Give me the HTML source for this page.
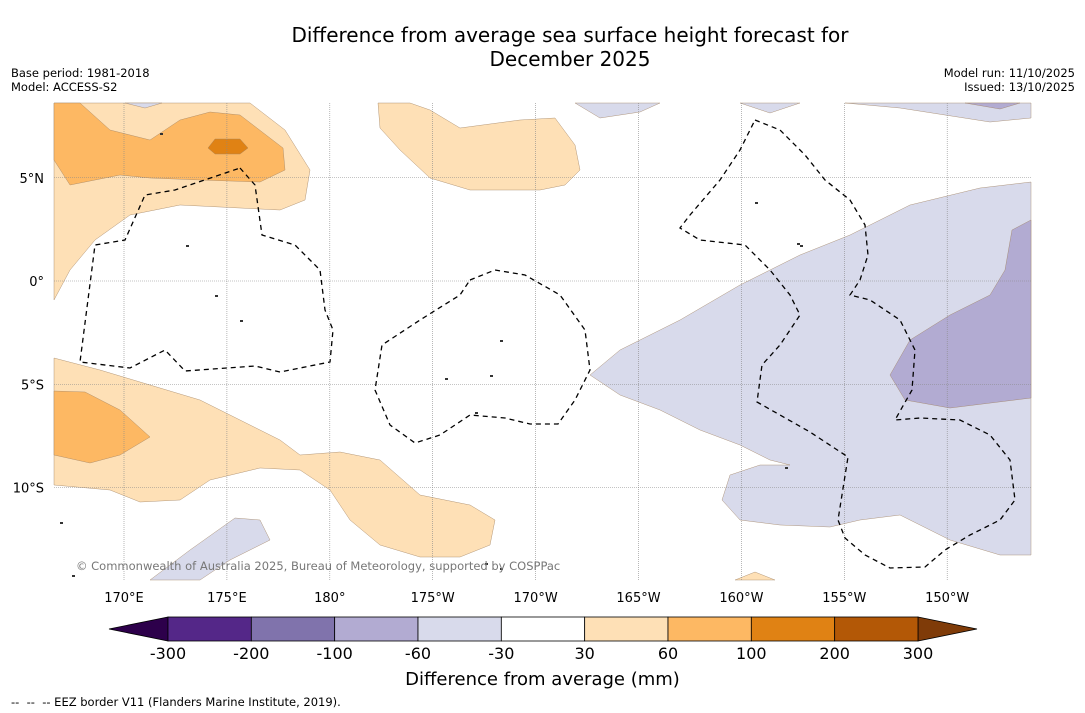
<!DOCTYPE html>
<html><head><meta charset="utf-8">
<style>
body{margin:0;background:#fff;font-family:"DejaVu Sans",sans-serif;}
#wrap{position:relative;width:1085px;height:713px;overflow:hidden;background:#fff}
.t{position:absolute;white-space:nowrap;color:#000}
</style></head><body>
<div id="wrap">
<div class="t" style="left:0;width:1140px;top:23px;text-align:center;font-size:20px;line-height:24px">Difference from average sea surface height forecast for<br>December 2025</div>
<div class="t" style="left:11px;top:66px;font-size:11.5px;line-height:14px">Base period: 1981-2018<br>Model: ACCESS-S2</div>
<div class="t" style="right:10px;top:66px;font-size:11.5px;line-height:14px;text-align:right">Model run: 11/10/2025<br>Issued: 13/10/2025</div>
<svg id="svg" width="1085" height="713" style="position:absolute;left:0;top:0"></svg>
<div class="t" style="left:0;width:1085px;text-align:center;top:669px;font-size:18px">Difference from average (mm)</div>
<div class="t" style="left:11px;top:695px;font-size:11.5px">-- &nbsp;-- &nbsp;-- EEZ border V11 (Flanders Marine Institute, 2019).</div>
</div>
<script>
const levels=["-300","-200","-100","-60","-30","30","60","100","200","300"];
const levelColors=["#542788","#8073ac","#b2abd2","#d8daeb","#ffffff","#fee0b6","#fdb863","#e08214","#b35806"];
const extendColors=["#2d004b","#7f3b08"];
const lonTicks=[170,175,180,-175,-170,-165,-160,-155,-150];
const lonLabels=["170°E","175°E","180°","175°W","170°W","165°W","160°W","155°W","150°W"];
const latTicks=[5,0,-5,-10];
const latLabels=["5°N","0°","5°S","10°S"];
const NS="http://www.w3.org/2000/svg";
const FF="DejaVu Sans, sans-serif";
const svg=document.getElementById('svg');
const X0=54,X1=1031,Y0=103,Y1=580;
function lonX(l){let e=l<0?l+360:l;return 124+(e-170)*20.58;}
function latY(l){return 281-l*20.65;}
function mk(t,a,p){const e=document.createElementNS(NS,t);for(const k in a)e.setAttribute(k,a[k]);(p||svg).appendChild(e);return e;}
const g=mk('g',{});


const polys=[
["orange-light-nw","#fee0b6","54,103 250,103 285,130 310,170 305,200 280,210 240,208 180,205 130,215 95,240 70,270 54,300"],
["orange-mid-nw","#fdb863","54,103 80,103 110,130 150,140 180,120 210,112 240,115 283,148 285,170 260,182 200,180 150,178 120,175 70,185 54,160"],
["orange-dark-nw","#e08214","208,148 215,139 240,139 248,148 240,154 215,154"],
["orange-light-north","#fee0b6","378,103 410,103 430,110 460,128 520,120 555,118 575,145 580,170 565,185 540,190 470,190 430,178 400,150 380,128"],
["orange-light-sw","#fee0b6","54,358 100,370 150,385 200,400 240,420 280,440 300,455 340,452 380,460 420,495 470,505 495,520 490,545 460,557 420,557 380,545 350,520 330,490 300,470 260,468 210,480 180,500 140,502 110,490 54,485"],
["orange-mid-sw","#fdb863","54,391 85,392 120,410 150,437 120,455 90,463 54,455"],
["lavender-east","#d8daeb","590,375 620,350 680,320 740,285 800,255 850,235 910,205 980,188 1031,182 1031,555 1000,555 950,540 900,515 860,520 830,527 780,525 740,520 722,500 730,475 760,465 790,465 770,460 740,445 700,430 660,410 620,395"],
["lavender-dark-east","#b2abd2","1031,220 1012,230 1005,270 990,295 950,315 910,340 890,375 905,400 950,408 1031,398"],
["lavender-top1","#d8daeb","575,103 660,103 640,112 600,118"],
["lavender-top2","#d8daeb","740,103 800,103 770,113"],
["lavender-top3","#d8daeb","845,103 1031,103 1031,118 990,122 900,108"],
["lavender-top4","#b2abd2","965,103 1020,103 1000,109"],
["lavender-top5","#d8daeb","125,103 162,103 145,108"],
["lavender-sw","#d8daeb","150,580 190,550 235,518 260,520 270,540 230,560 200,580"],
["orange-bottom","#fee0b6","735,580 755,572 775,580"]
];
for(const p of polys){const e=mk('polygon',{points:p[2],fill:p[1],stroke:'#a08060','stroke-width':0.4},g);

}
lonTicks.forEach((l,i)=>{const x=lonX(l);
const ln=mk('line',{x1:x,x2:x,y1:Y0,y2:Y1,stroke:'#888','stroke-width':0.6,'stroke-dasharray':'1,1'},g);


const t=mk('text',{x:x,y:602,'font-size':13,'text-anchor':'middle','font-family':FF});t.textContent=lonLabels[i];

});
latTicks.forEach((l,i)=>{const y=latY(l);
const ln=mk('line',{x1:X0,x2:X1,y1:y,y2:y,stroke:'#888','stroke-width':0.6,'stroke-dasharray':'1,1'},g);


const t=mk('text',{x:44,y:y+5,'font-size':13,'text-anchor':'end','font-family':FF});t.textContent=latLabels[i];

});
const eez=[
"240,168 255,185 262,235 295,245 320,270 325,310 333,330 330,362 280,372 255,366 185,371 165,350 130,368 80,362 95,245 125,240 145,195 175,190 240,168",
"470,280 495,270 525,275 560,295 585,330 590,370 575,400 558,424 530,424 505,418 470,415 440,435 415,443 390,425 375,390 382,345 420,320 460,295 470,280",
"755,120 780,130 805,155 825,180 850,200 865,225 868,255 860,280 850,295 870,300 900,320 915,350 912,390 895,420 920,418 960,420 990,435 1010,460 1015,500 1000,520 970,535 945,550 925,567 890,568 865,555 845,538 838,520 848,457 810,432 757,402 762,365 780,345 800,315 790,295 770,270 745,245 700,240 680,228 690,215 720,180 740,150 755,120"];
eez.forEach(p=>{const e=mk('polygon',{points:p,fill:'none',stroke:'#000','stroke-width':1.3,'stroke-dasharray':'5,4'},g);

});
const islands=[[160,133],[186,245],[215,295],[240,320],[445,378],[500,340],[490,375],[475,412],[500,568],[485,563],[755,202],[797,243],[785,467],[60,522],[72,575],[800,245]];
islands.forEach(p=>{const e=mk('rect',{x:p[0],y:p[1],width:3,height:2,fill:'#333'},g);

});
const cp=mk('text',{x:76,y:570,'font-size':11.5,fill:'#777','font-family':FF});cp.textContent='© Commonwealth of Australia 2025, Bureau of Meteorology, supported by COSPPac';


const cb=mk('g',{});


const cx0=168,cx1=918,cy=617,ch=24,n=levelColors.length,w=(cx1-cx0)/n;
const l=mk('polygon',{points:`${cx0},${cy} 109,${cy+ch/2} ${cx0},${cy+ch}`,fill:extendColors[0],stroke:'#000','stroke-width':0.8},cb);


const r=mk('polygon',{points:`${cx1},${cy} 977,${cy+ch/2} ${cx1},${cy+ch}`,fill:extendColors[1],stroke:'#000','stroke-width':0.8},cb);


levelColors.forEach((c,i)=>{const e=mk('rect',{x:cx0+i*w,y:cy,width:w,height:ch,fill:c,stroke:'#000','stroke-width':0.8},cb);

});
levels.forEach((s,i)=>{const t=mk('text',{x:cx0+i*w,y:659,'font-size':16,'text-anchor':'middle','font-family':FF},cb);t.textContent=s;

});
</script>
</body></html>
